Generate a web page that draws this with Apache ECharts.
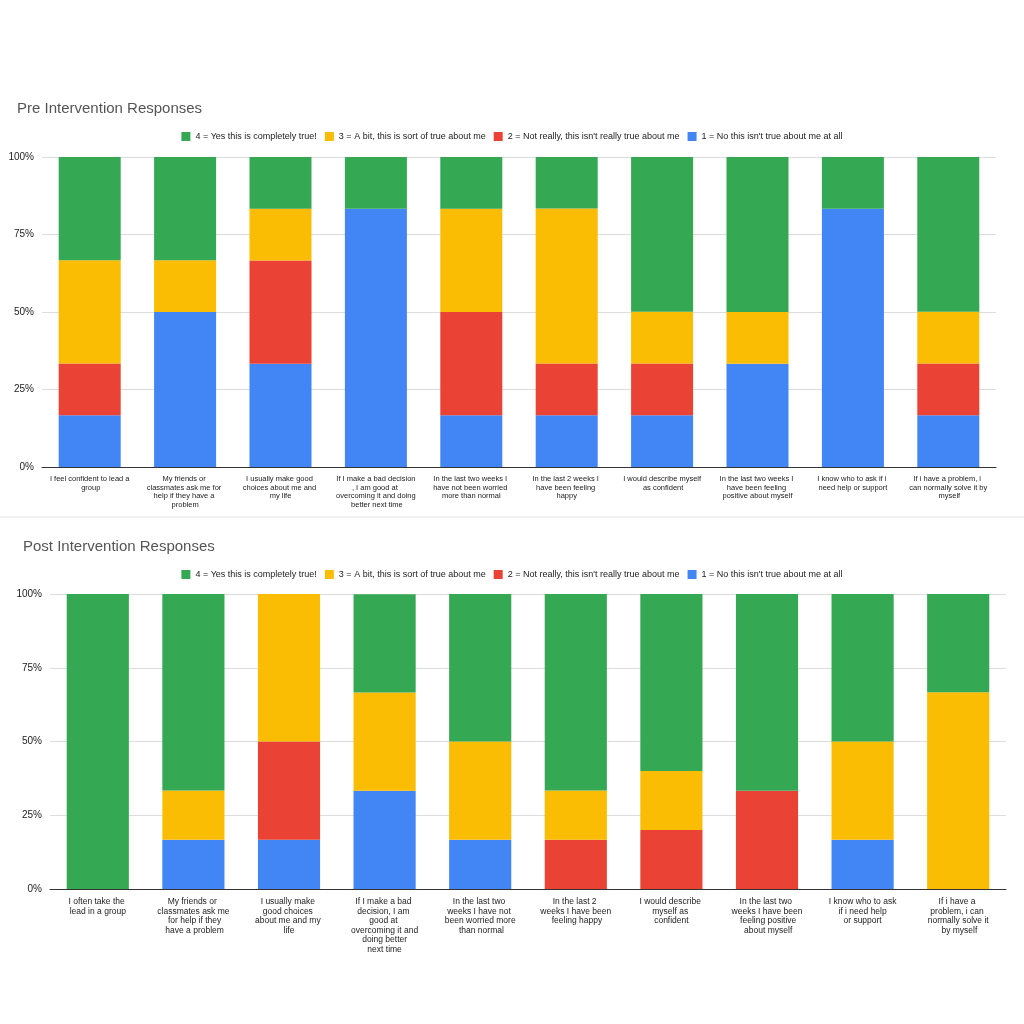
<!DOCTYPE html>
<html><head><meta charset="utf-8">
<script src="https://cdn.jsdelivr.net/npm/echarts@6/dist/echarts.min.js"></script>
<style>html,body{margin:0;background:#fff}#c{width:1024px;height:1024px}</style>
</head><body><div id="c"></div>
<script>
const legendNames = ['4 = Yes this is completely true!','3 = A bit, this is sort of true about me','2 = Not really, this isn\'t really true about me','1 = No this isn\'t true about me at all'];
const colors = ['#34a853','#fbbc04','#ea4335','#4285f4'];

const preCats = ['I feel confident to lead a group','My friends or classmates ask me for help if they have a problem','I usually make good choices about me and my life','If I make a bad decision, I am good at overcoming it and doing better next time','In the last two weeks I have not been worried more than normal','In the last 2 weeks I have been feeling happy','I would describe myself as confident','In the last two weeks I have been feeling positive about myself','I know who to ask if i need help or support','If i have a problem, i can normally solve it by myself'];
const pre4 = [33.3,33.3,16.7,16.7,16.7,16.7,50,50,16.7,50];
const pre3 = [33.3,16.7,16.7,0,33.3,50,16.7,16.7,0,16.7];
const pre2 = [16.7,0,33.3,0,33.3,16.7,16.7,0,0,16.7];
const pre1 = [16.7,50,33.3,83.3,16.7,16.7,16.7,33.3,83.3,16.7];

const postCats = ['I often take the lead in a group','My friends or classmates ask me for help if they have a problem','I usually make good choices about me and my life','If I make a bad decision, I am good at overcoming it and doing better next time','In the last two weeks I have not been worried more than normal','In the last 2 weeks I have been feeling happy','I would describe myself as confident','In the last two weeks I have been feeling positive about myself','I know who to ask if i need help or support','If i have a problem, i can normally solve it by myself'];
const post4 = [100,66.7,0,33.3,50,66.7,60,66.7,50,33.3];
const post3 = [0,16.7,50,33.3,33.3,16.7,20,0,33.3,66.7];
const post2 = [0,0,33.3,0,0,16.7,20,33.3,0,0];
const post1 = [0,16.7,16.7,33.3,16.7,0,0,0,16.7,0];

const tickLabels = ['0%','25%','50%','75%','100%'];

function xAx(idx, cats, fs, w){
  return {gridIndex:idx,type:'category',data:cats,axisTick:{show:false},
    axisLine:{lineStyle:{color:'#333'}},
    axisLabel:{interval:0,fontSize:fs,color:'#222',width:w,overflow:'break',lineHeight:fs+1,fontFamily:'Arial'}};
}
function yAx(idx){
  return {gridIndex:idx,type:'value',min:0,max:100,interval:25,
    axisLabel:{formatter:v=>tickLabels[v/25],fontSize:10,color:'#222'},
    splitLine:{lineStyle:{color:'#ddd'}}};
}
function series(idx, arrs){
  const order=[3,2,1,0];
  return order.map(k=>({name:legendNames[k],type:'bar',stack:'s'+idx,xAxisIndex:idx,yAxisIndex:idx,
    data:arrs[k],itemStyle:{color:colors[k]},barCategoryGap:'35%'}));
}
const chart = echarts.init(document.getElementById('c'));
chart.setOption({
  animation:false,
  title:[{text:'Pre Intervention Responses',left:12,top:96,textStyle:{fontSize:15,fontWeight:'normal',color:'#555'}},
         {text:'Post Intervention Responses',left:18,top:534,textStyle:{fontSize:15,fontWeight:'normal',color:'#555'}}],
  legend:[{data:legendNames,top:127,left:'center',itemWidth:9,itemHeight:9,icon:'rect',textStyle:{fontSize:9,color:'#222'}},
          {data:legendNames,top:565,left:'center',itemWidth:9,itemHeight:9,icon:'rect',textStyle:{fontSize:9,color:'#222'}}],
  grid:[{left:42,right:28,top:157,height:310},{left:50,right:18,top:594,height:295}],
  xAxis:[xAx(0,preCats,7.5,80),xAx(1,postCats,8.5,85)],
  yAxis:[yAx(0),yAx(1)],
  graphic:[{type:'line',shape:{x1:0,y1:517,x2:1024,y2:517},style:{stroke:'#e5e5e5',lineWidth:1}}],
  series:[...series(0,[pre4,pre3,pre2,pre1]),...series(1,[post4,post3,post2,post1])]
});
</script></body></html>
